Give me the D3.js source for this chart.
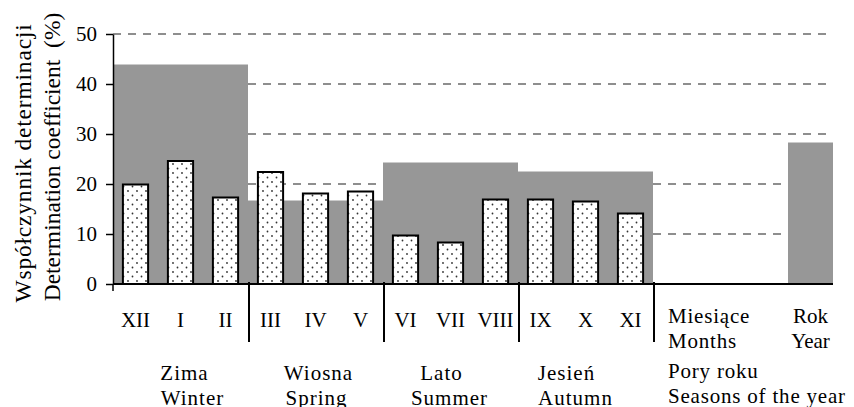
<!DOCTYPE html>
<html>
<head>
<meta charset="utf-8">
<script src="https://cdn.jsdelivr.net/npm/d3@7"></script>
<style>
  body { margin: 0; background: #fff; }
</style>
</head>
<body>
<div id="chart"></div>
<script>
// monthly values (dotted bars)
var months = ["XII", "I", "II", "III", "IV", "V", "VI", "VII", "VIII", "IX", "X", "XI"];
var monthValues = [19.9, 24.6, 17.3, 22.4, 18.1, 18.5, 9.7, 8.3, 16.9, 16.9, 16.5, 14.1];

// seasonal values (grey blocks)
var seasonsPl = ["Zima", "Wiosna", "Lato", "Jesień"];
var seasonsEn = ["Winter", "Spring", "Summer", "Autumn"];
var seasonValues = [43.9, 16.7, 24.3, 22.5];

// whole year
var yearValue = 28.3;

var yTicks = [0, 10, 20, 30, 40, 50];

var serif = "'Liberation Serif', 'Times New Roman', Times, serif";
var W = 854, H = 407;
var mLeft = 113, mRight = 833, mTop = 34, mBottom = 284;
var nSlots = 16;
// the season captions sit a bit off-centre in the original
var plShift = [4, 3, -9, -19];
var enShift = [12, 1, -1, -10];

var svg = d3.select("#chart").append("svg")
  .attr("width", W)
  .attr("height", H)
  .style("font-family", serif);

var defs = svg.append("defs");
var pat = defs.append("pattern")
  .attr("id", "dots")
  .attr("patternUnits", "userSpaceOnUse")
  .attr("width", 9)
  .attr("height", 9);
pat.append("rect").attr("width", 9).attr("height", 9).attr("fill", "#fff");
pat.append("circle").attr("cx", 2).attr("cy", 2).attr("r", 0.9).attr("fill", "#333");
pat.append("circle").attr("cx", 6.5).attr("cy", 6.5).attr("r", 0.9).attr("fill", "#333");

var y = d3.scaleLinear().domain([0, 50]).range([mBottom, mTop]);
var slot = d3.scaleLinear().domain([0, nSlots]).range([mLeft, mRight]);
var x = d3.scaleBand()
  .domain(d3.range(nSlots))
  .range([mLeft, mRight])
  .paddingInner(0.44)
  .paddingOuter(0.22);

// dashed grid
svg.append("g")
  .selectAll("line")
  .data(yTicks.filter(function (d) { return d > 0; }))
  .enter().append("line")
  .attr("x1", mLeft)
  .attr("x2", mRight - 5)
  .attr("y1", function (d) { return y(d); })
  .attr("y2", function (d) { return y(d); })
  .attr("stroke", "#6a6a6a")
  .attr("stroke-width", 1.6)
  .attr("stroke-dasharray", "8,7");

// season blocks
svg.append("g")
  .selectAll("rect")
  .data(seasonValues)
  .enter().append("rect")
  .attr("x", function (d, i) { return slot(i * 3); })
  .attr("width", function (d, i) { return slot(i * 3 + 3) - slot(i * 3); })
  .attr("y", function (d) { return y(d); })
  .attr("height", function (d) { return y(0) - y(d); })
  .attr("fill", "#979797");

// year block
svg.append("rect")
  .attr("x", slot(15))
  .attr("width", slot(16) - slot(15))
  .attr("y", y(yearValue))
  .attr("height", y(0) - y(yearValue))
  .attr("fill", "#979797");

// month bars
svg.append("g")
  .selectAll("rect")
  .data(monthValues)
  .enter().append("rect")
  .attr("x", function (d, i) { return x(i); })
  .attr("width", x.bandwidth())
  .attr("y", function (d) { return y(d); })
  .attr("height", function (d) { return y(0) - y(d); })
  .attr("fill", "url(#dots)")
  .attr("stroke", "#000")
  .attr("stroke-width", 2);

// y axis
var yAxis = svg.append("g")
  .attr("transform", "translate(" + mLeft + ",0)")
  .call(d3.axisLeft(y).tickValues(yTicks).tickSize(7).tickSizeOuter(0).tickPadding(9));
yAxis.attr("font-family", null).attr("font-size", null);
yAxis.select(".domain").attr("stroke", "#000").attr("stroke-width", 1.5);
yAxis.selectAll(".tick line").attr("stroke", "#000").attr("stroke-width", 1.5);
yAxis.selectAll(".tick text")
  .style("font-family", serif)
  .style("font-size", "21px")
  .attr("fill", "#000");

svg.append("line")
  .attr("x1", mLeft).attr("x2", mLeft)
  .attr("y1", mBottom).attr("y2", mBottom + 7)
  .attr("stroke", "#000").attr("stroke-width", 1.5);

// x axis line
svg.append("line")
  .attr("x1", mLeft).attr("x2", mRight)
  .attr("y1", mBottom).attr("y2", mBottom)
  .attr("stroke", "#000").attr("stroke-width", 2);

// season separators
svg.append("g")
  .selectAll("line")
  .data([3, 6, 9, 12])
  .enter().append("line")
  .attr("x1", function (d) { return slot(d) + 1; })
  .attr("x2", function (d) { return slot(d) + 1; })
  .attr("y1", mBottom - 2)
  .attr("y2", mBottom + 58)
  .attr("stroke", "#000")
  .attr("stroke-width", 2);

function label(g, txt, px, py, anchor, spacing) {
  return g.append("text")
    .attr("x", px)
    .attr("y", py)
    .attr("text-anchor", anchor)
    .style("font-family", serif)
    .style("font-size", "21px")
    .style("letter-spacing", (spacing || 0) + "px")
    .text(txt);
}

// month labels
var mg = svg.append("g");
months.forEach(function (m, i) {
  label(mg, m, x(i) + x.bandwidth() / 2, 327, "middle", 0);
});

// season labels
var sg = svg.append("g");
seasonsPl.forEach(function (s, i) {
  var cx = (slot(i * 3) + slot(i * 3 + 3)) / 2;
  label(sg, s, cx + plShift[i], 380, "middle", 1);
  label(sg, seasonsEn[i], cx + enShift[i], 405, "middle", 1);
});

// labels at right
var lx = slot(12) + 15;
label(svg, "Miesiące", lx, 323, "start", 0.8);
label(svg, "Months", lx, 348, "start", 0.8);
label(svg, "Pory roku", lx, 378, "start", 0.8);
label(svg, "Seasons of the year", lx, 403, "start", 0.8);
var ycx = (slot(15) + slot(16)) / 2;
label(svg, "Rok", ycx, 323, "middle", 0);
label(svg, "Year", ycx, 348, "middle", 0);

// y axis title
svg.append("text")
  .attr("transform", "translate(31,163) rotate(-90)")
  .attr("text-anchor", "middle")
  .style("font-family", serif)
  .style("font-size", "23.5px")
  .style("letter-spacing", "0.8px")
  .text("Współczynnik determinacji");
svg.append("text")
  .attr("transform", "translate(60,157) rotate(-90)")
  .attr("text-anchor", "middle")
  .style("font-family", serif)
  .style("font-size", "23.5px")
  .style("white-space", "pre")
  .text("Determination coefficient  (%)");
</script>
</body>
</html>
